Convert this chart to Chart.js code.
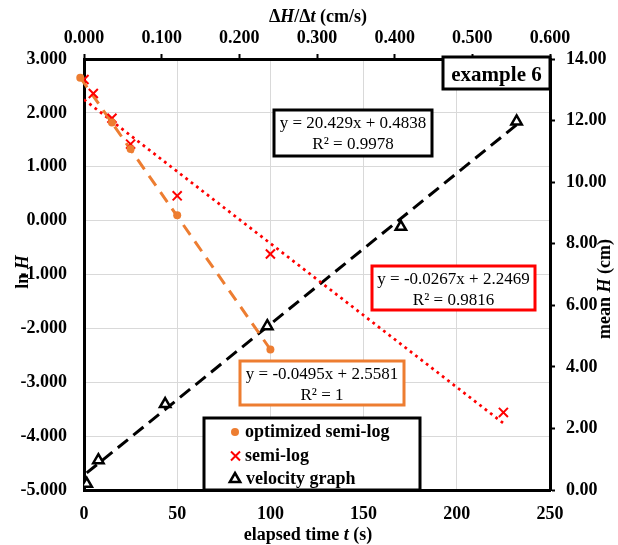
<!DOCTYPE html>
<html>
<head>
<meta charset="utf-8">
<script src="https://cdn.jsdelivr.net/npm/chart.js@4.4.0/dist/chart.umd.min.js"></script>
<style>
  html, body { margin: 0; padding: 0; background: #ffffff; }
  canvas { display: block; }
</style>
</head>
<body>
<canvas id="chart" width="618" height="545"></canvas>
<script>
// Drain test, example 6: semi-log fits of ln H against t, and the velocity graph
const optTime   = [-2, 15, 25, 50, 100];                 // s
const optLnH    = [2.65, 1.82, 1.33, 0.10, -2.39];
const semiTime  = [0, 5, 15, 25, 50, 100, 225];          // s
const semiLnH   = [2.62, 2.36, 1.90, 1.42, 0.46, -0.62, -3.56];
const velRate   = [0.0035, 0.0185, 0.1045, 0.236, 0.408, 0.557];   // dH/dt, cm/s
const velMeanH  = [0.20, 0.97, 2.79, 5.32, 8.55, 11.97];           // cm

// Linear trendlines: optimized semi-log, semi-log, velocity graph
const fitSlope     = [-0.0495, -0.0267, 20.429];
const fitIntercept = [2.5581, 2.2469, 0.4838];
const fitR2        = ['1', '0.9816', '0.9978'];

// Axis tick values
const timeTicks = [0, 50, 100, 150, 200, 250];
const rateTicks = [0, 0.1, 0.2, 0.3, 0.4, 0.5, 0.6];
const lnTicks   = [-5, -4, -3, -2, -1, 0, 1, 2, 3];
const meanTicks = [0, 2, 4, 6, 8, 10, 12, 14];

const SERIF = "'Liberation Serif', 'Times New Roman', serif";
const ORANGE = '#ED7D31';
const RED = '#FF0000';

function pts(xs, ys) { return xs.map((x, i) => ({ x: x, y: ys[i] })); }
function fitLine(i, xs) {
  const x0 = Math.min(...xs), x1 = Math.max(...xs);
  return [{ x: x0, y: fitSlope[i] * x0 + fitIntercept[i] },
          { x: x1, y: fitSlope[i] * x1 + fitIntercept[i] }];
}
function fitLabel(i) {
  return ['y = ' + fitSlope[i] + 'x + ' + fitIntercept[i], 'R\u00B2 = ' + fitR2[i]];
}
function useTicks(list) {
  return function (scale) { scale.ticks = list.map(v => ({ value: v })); };
}

function richText(ctx, parts, x, y, size, rot) {
  ctx.save();
  ctx.translate(x, y);
  if (rot) ctx.rotate(rot);
  let total = 0;
  parts.forEach(p => {
    ctx.font = (p.i ? 'italic ' : '') + (p.b === false ? '' : 'bold ') + size + 'px ' + SERIF;
    p.w = ctx.measureText(p.t).width;
    total += p.w;
  });
  let cx = -total / 2;
  ctx.textAlign = 'left';
  ctx.textBaseline = 'alphabetic';
  ctx.fillStyle = '#000';
  parts.forEach(p => {
    ctx.font = (p.i ? 'italic ' : '') + (p.b === false ? '' : 'bold ') + size + 'px ' + SERIF;
    ctx.fillText(p.t, cx, 0);
    cx += p.w;
  });
  ctx.restore();
}

function frame(ctx, x, y, w, h, color, lw) {
  ctx.save();
  ctx.fillStyle = '#fff';
  ctx.fillRect(x, y, w, h);
  ctx.strokeStyle = color;
  ctx.lineWidth = lw;
  ctx.strokeRect(x, y, w, h);
  ctx.restore();
}

function textBox(ctx, lines, box, color) {
  frame(ctx, box[0], box[1], box[2], box[3], color, 3);
  ctx.save();
  ctx.font = '17px ' + SERIF;
  ctx.fillStyle = '#000';
  ctx.textAlign = 'center';
  ctx.textBaseline = 'alphabetic';
  const cx = box[0] + box[2] / 2;
  ctx.fillText(lines[0], cx, box[1] + 18);
  ctx.fillText(lines[1], cx, box[1] + 39);
  ctx.restore();
}

const overlay = {
  id: 'overlay',
  afterDraw(chart) {
    const ctx = chart.ctx;

    // axis titles
    richText(ctx, [{ t: '\u0394' }, { t: 'H', i: true }, { t: '/\u0394' }, { t: 't', i: true }, { t: ' (cm/s)' }], 318, 22, 18);
    richText(ctx, [{ t: 'elapsed time ' }, { t: 't', i: true }, { t: ' (s)' }], 308, 540, 18);
    richText(ctx, [{ t: 'ln ' }, { t: 'H', i: true }], 28, 272, 18, -Math.PI / 2);
    richText(ctx, [{ t: 'mean ' }, { t: 'H', i: true }, { t: ' (cm)' }], 610, 289, 18, -Math.PI / 2);

    // trendline equations
    textBox(ctx, fitLabel(2), [274, 110, 158, 46], '#000');
    textBox(ctx, fitLabel(1), [372, 266, 163, 44], RED);
    textBox(ctx, fitLabel(0), [240, 361, 164, 44], ORANGE);

    // caption
    frame(ctx, 443, 57, 107, 32, '#000', 3);
    ctx.save();
    ctx.font = 'bold 21px ' + SERIF;
    ctx.fillStyle = '#000';
    ctx.textAlign = 'center';
    ctx.fillText('example 6', 496.5, 81);
    ctx.restore();

    // legend
    frame(ctx, 204, 418, 216, 72, '#000', 3);
    const rows = [432, 456, 479];
    ctx.save();
    // circle
    ctx.fillStyle = ORANGE;
    ctx.beginPath(); ctx.arc(235, rows[0], 4, 0, Math.PI * 2); ctx.fill();
    // x
    ctx.strokeStyle = RED; ctx.lineWidth = 2;
    ctx.beginPath();
    ctx.moveTo(231, rows[1] - 4.5); ctx.lineTo(240, rows[1] + 4.5);
    ctx.moveTo(240, rows[1] - 4.5); ctx.lineTo(231, rows[1] + 4.5);
    ctx.stroke();
    // triangle
    ctx.strokeStyle = '#000'; ctx.lineWidth = 2.5; ctx.fillStyle = '#fff';
    ctx.beginPath();
    ctx.moveTo(235, rows[2] - 6); ctx.lineTo(240.2, rows[2] + 3); ctx.lineTo(229.8, rows[2] + 3);
    ctx.closePath(); ctx.fill(); ctx.stroke();
    ctx.fillStyle = '#000';
    ctx.font = 'bold 18px ' + SERIF;
    ctx.textAlign = 'left';
    const names = chart.data.datasets.slice(0, 3).map(d => d.label);
    ctx.fillText(names[0], 245, 437);
    ctx.fillText(names[1], 245, 461);
    ctx.fillText(names[2], 246, 484);
    ctx.restore();
  }
};

const tickFont = { family: SERIF, size: 18, weight: 'bold' };
const gridColor = '#d9d9d9';
const edge = { display: true, color: '#000', width: 3 };

new Chart(document.getElementById('chart'), {
  type: 'scatter',
  data: {
    datasets: [
      { label: 'optimized semi-log', data: pts(optTime, optLnH), xAxisID: 'x', yAxisID: 'y',
        pointStyle: 'circle', pointRadius: 4, backgroundColor: ORANGE, borderWidth: 0, clip: false },
      { label: 'semi-log', data: pts(semiTime, semiLnH), xAxisID: 'x', yAxisID: 'y',
        pointStyle: 'crossRot', pointRadius: 6.4, borderColor: RED, borderWidth: 2 },
      { label: 'velocity graph', data: pts(velRate, velMeanH), xAxisID: 'x2', yAxisID: 'y2',
        pointStyle: 'triangle', pointRadius: 6, backgroundColor: '#fff', borderColor: '#000', borderWidth: 2.5 },
      { label: 'fit optimized', data: fitLine(0, optTime), xAxisID: 'x', yAxisID: 'y', showLine: true,
        pointRadius: 0, borderColor: ORANGE, borderWidth: 3, borderDash: [12, 8], clip: false },
      { label: 'fit semi-log', data: fitLine(1, semiTime), xAxisID: 'x', yAxisID: 'y', showLine: true,
        pointRadius: 0, borderColor: RED, borderWidth: 2.75, borderDash: [2.75, 4] },
      { label: 'fit velocity', data: fitLine(2, velRate), xAxisID: 'x2', yAxisID: 'y2', showLine: true,
        pointRadius: 0, borderColor: '#000', borderWidth: 3, borderDash: [13, 7] }
    ]
  },
  options: {
    responsive: false,
    animation: false,
    devicePixelRatio: 1,
    layout: { padding: 0 },
    plugins: { legend: { display: false }, tooltip: { enabled: false } },
    scales: {
      x: {
        type: 'linear', position: 'bottom', min: 0, max: 250,
        afterBuildTicks: useTicks(timeTicks),
        afterFit: s => { s.height = 55; },
        ticks: { font: tickFont, color: '#000', padding: 14, maxRotation: 0 },
        grid: { color: gridColor, lineWidth: 1, drawTicks: false },
        border: edge
      },
      x2: {
        type: 'linear', position: 'top', min: 0, max: 0.6,
        afterBuildTicks: useTicks(rateTicks),
        afterFit: s => { s.height = 59; },
        ticks: { font: tickFont, color: '#000', padding: 5, maxRotation: 0, callback: v => v.toFixed(3) },
        grid: { drawOnChartArea: false, drawTicks: true, tickLength: 5, tickColor: '#000', tickWidth: 2 },
        border: edge
      },
      y: {
        type: 'linear', position: 'left', min: -5, max: 3,
        afterBuildTicks: useTicks(lnTicks),
        afterFit: s => { s.width = 84; },
        ticks: { font: tickFont, color: '#000', padding: 17, callback: v => v.toFixed(3) },
        grid: { color: gridColor, lineWidth: 1, drawTicks: false },
        border: edge
      },
      y2: {
        type: 'linear', position: 'right', min: 0, max: 14,
        afterBuildTicks: useTicks(meanTicks),
        afterFit: s => { s.width = 68; },
        ticks: { font: tickFont, color: '#000', padding: 11, callback: v => v.toFixed(2) },
        grid: { drawOnChartArea: false, drawTicks: true, tickLength: 5, tickColor: '#000', tickWidth: 2 },
        border: edge
      }
    }
  },
  plugins: [overlay]
});
</script>
</body>
</html>
